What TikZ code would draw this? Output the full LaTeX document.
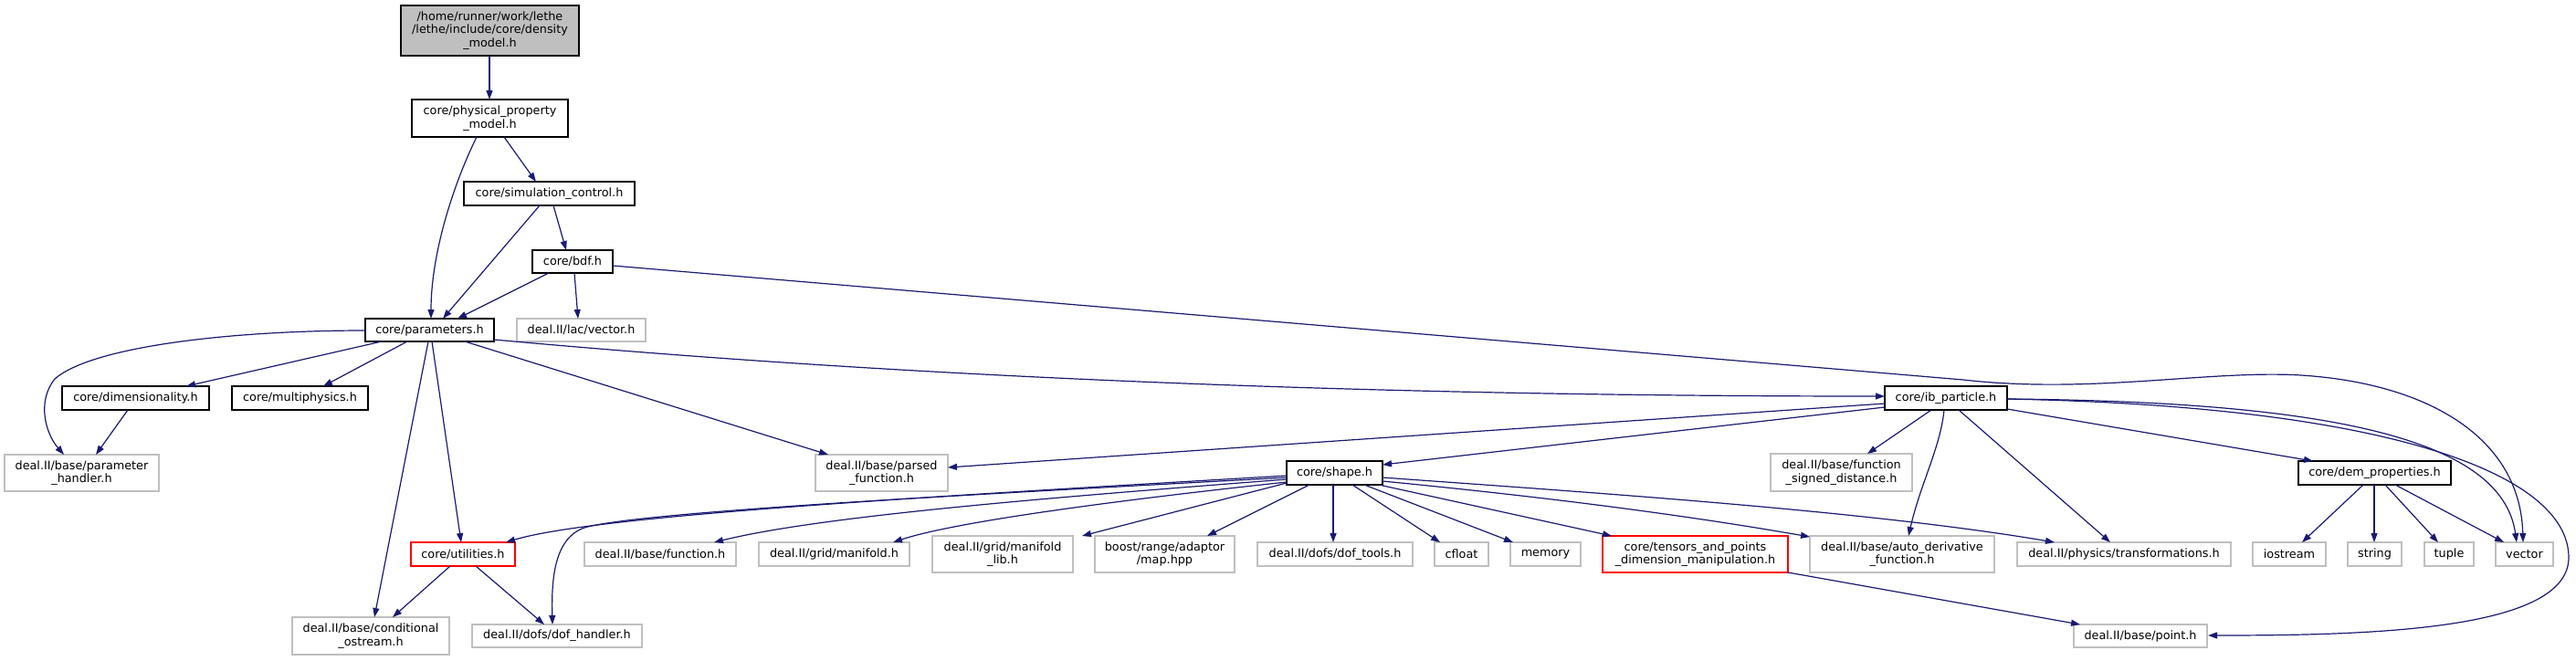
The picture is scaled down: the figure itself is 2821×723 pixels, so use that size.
\documentclass[tikz,border=0pt]{standalone}
\usepackage{fontspec}
\setmainfont{DejaVu Sans}
\usetikzlibrary{arrows.meta}
\definecolor{edgeblue}{HTML}{191970}
\definecolor{greyb}{HTML}{BFBFBF}
\newcommand\nbox[7]{\node[#2, minimum width={(#5-#3)*1pt}, minimum height={(#6-#4)*1pt}] (#1) at ({(#3+#5)/2},{(#4+#6)/2}) {#7};}
\newcommand\pp[3]{([xshift=#2pt,yshift=-#3pt]#1.north west)}
\tikzset{
  base/.style={rectangle, inner sep=0pt, outer sep=0pt, align=center, line width=1.2pt,
    font=\fontsize{12.8pt}{14.4pt}\selectfont},
  doc/.style={base, draw=black, fill=white},
  ext/.style={base, draw=greyb, fill=white},
  trunc/.style={base, draw=red, fill=white},
  root/.style={base, draw=black, fill=greyb},
  dep/.style={draw=edgeblue, line width=1.2pt, -{Triangle[length=10pt,width=7pt]}, fill=none},
}
\begin{document}
\begin{tikzpicture}[x=1pt,y=-1pt]
\useasboundingbox (0,0) rectangle (2821,723);
% nodes
\nbox{density}{root}{439}{6}{634}{61}{/home/runner/work/lethe\\/lethe/include/core/density\\\_model.h}
\nbox{physical}{doc}{451}{109}{622}{150}{core/physical\_property\\\_model.h}
\nbox{simctl}{doc}{508}{199}{695}{225}{core/simulation\_control.h}
\nbox{bdf}{doc}{583}{274}{671}{299}{core/bdf.h}
\nbox{params}{doc}{400}{349}{541}{374}{core/parameters.h}
\nbox{lacvec}{ext}{566}{349}{707}{374}{deal.II/lac/vector.h}
\nbox{dim}{doc}{68}{423}{229}{449}{core/dimensionality.h}
\nbox{multi}{doc}{254}{423}{403}{449}{core/multiphysics.h}
\nbox{ph}{ext}{5}{498}{174}{538}{deal.II/base/parameter\\\_handler.h}
\nbox{parsed}{ext}{893}{498}{1038}{538}{deal.II/base/parsed\\\_function.h}
\nbox{ibp}{doc}{2064}{423}{2198}{449}{core/ib\_particle.h}
\nbox{fsd}{ext}{1939}{497}{2094}{538}{deal.II/base/function\\\_signed\_distance.h}
\nbox{dem}{doc}{2517}{505}{2684}{531}{core/dem\_properties.h}
\nbox{shape}{doc}{1409}{505}{1514}{531}{core/shape.h}
\nbox{util}{trunc}{450}{594}{564}{620}{core/utilities.h}
\nbox{func}{ext}{640}{594}{806}{620}{deal.II/base/function.h}
\nbox{manif}{ext}{831}{594}{996}{620}{deal.II/grid/manifold.h}
\nbox{mlib}{ext}{1021}{587}{1175}{627}{deal.II/grid/manifold\\\_lib.h}
\nbox{boost}{ext}{1199}{587}{1352}{627}{boost/range/adaptor\\/map.hpp}
\nbox{doft}{ext}{1377}{594}{1547}{620}{deal.II/dofs/dof\_tools.h}
\nbox{cfloat}{ext}{1571}{594}{1630}{620}{cfloat}
\nbox{memory}{ext}{1654}{594}{1731}{620}{memory}
\nbox{tensors}{trunc}{1755}{587}{1958}{627}{core/tensors\_and\_points\\\_dimension\_manipulation.h}
\nbox{autod}{ext}{1982}{587}{2184}{627}{deal.II/base/auto\_derivative\\\_function.h}
\nbox{transf}{ext}{2209}{594}{2443}{620}{deal.II/physics/transformations.h}
\nbox{iostream}{ext}{2467}{594}{2547}{620}{iostream}
\nbox{string}{ext}{2571}{594}{2630}{620}{string}
\nbox{tuple}{ext}{2655}{594}{2709}{620}{tuple}
\nbox{vector}{ext}{2733}{594}{2796}{620}{vector}
\nbox{condo}{ext}{320}{676}{492}{717}{deal.II/base/conditional\\\_ostream.h}
\nbox{dofh}{ext}{517}{684}{703}{709}{deal.II/dofs/dof\_handler.h}
\nbox{point}{ext}{2271}{684}{2417}{709}{deal.II/base/point.h}
% edges
\draw[dep] \pp{density}{97}{55} -- \pp{physical}{85}{0};
\draw[dep] \pp{physical}{101}{41} -- \pp{simctl}{79}{0};
\draw[dep] \pp{physical}{71}{41} .. controls (495,205) and (472,280) .. \pp{params}{72}{0};
\draw[dep] \pp{simctl}{83}{26} -- \pp{params}{85}{0};
\draw[dep] \pp{simctl}{98}{26} -- \pp{bdf}{37}{0};
\draw[dep] \pp{bdf}{18}{25} -- \pp{params}{101}{0};
\draw[dep] \pp{bdf}{46}{25} -- \pp{lacvec}{67}{0};
\draw[dep] \pp{bdf}{88}{17} -- (2150,416) .. controls (2290,432) and (2420,405) .. (2520,411) .. controls (2660,420) and (2760,480) .. \pp{vector}{30}{0};
\draw[dep] \pp{params}{0}{13} .. controls (250,362) and (100,380) .. (60,415) .. controls (40,440) and (50,475) .. \pp{ph}{65}{0};
\draw[dep] \pp{params}{18}{25} -- \pp{dim}{136}{0};
\draw[dep] \pp{params}{46}{25} -- \pp{multi}{100}{0};
\draw[dep] \pp{params}{69}{25} -- \pp{condo}{90}{0};
\draw[dep] \pp{params}{73}{25} -- \pp{util}{55}{0};
\draw[dep] \pp{params}{109}{25} -- \pp{parsed}{14}{0};
\draw[dep] \pp{params}{141}{23} .. controls (900,405) and (1400,434) .. \pp{ibp}{0}{11};
\draw[dep] \pp{dim}{72}{26} -- \pp{ph}{100}{0};
\draw[dep] \pp{util}{43}{26} -- \pp{condo}{110}{0};
\draw[dep] \pp{util}{71}{26} -- \pp{dofh}{79}{0};
\draw[dep] \pp{ibp}{0}{19} -- \pp{parsed}{145}{14};
\draw[dep] \pp{ibp}{0}{23} -- \pp{shape}{105}{4};
\draw[dep] \pp{ibp}{51}{26} -- \pp{fsd}{106}{0};
\draw[dep] \pp{ibp}{65}{26} .. controls (2125,490) and (2103,530) .. \pp{autod}{108}{0};
\draw[dep] \pp{ibp}{81}{26} -- \pp{transf}{102}{0};
\draw[dep] \pp{ibp}{134}{25} -- \pp{dem}{16}{0};
\draw[dep] \pp{ibp}{134}{14} .. controls (2550,440) and (2740,480) .. \pp{vector}{23}{0};
\draw[dep] \pp{ibp}{134}{14} .. controls (2620,445) and (2812,520) .. (2813,610) .. controls (2814,690) and (2600,696) .. \pp{point}{147}{12};
\draw[dep] \pp{dem}{71}{26} -- \pp{iostream}{54}{0};
\draw[dep] \pp{dem}{83}{26} -- \pp{string}{29}{0};
\draw[dep] \pp{dem}{95}{26} -- \pp{tuple}{15}{0};
\draw[dep] \pp{dem}{106}{26} -- \pp{vector}{9}{0};
\draw[dep] \pp{shape}{0}{16} .. controls (1000,545) and (650,565) .. \pp{util}{104}{0};
\draw[dep] \pp{shape}{0}{18} .. controls (1100,540) and (700,560) .. (640,578) .. controls (605,590) and (604,640) .. \pp{dofh}{88}{0};
\draw[dep] \pp{shape}{0}{20} .. controls (1150,545) and (900,565) .. \pp{func}{142}{0};
\draw[dep] \pp{shape}{0}{23} .. controls (1250,545) and (1050,570) .. \pp{manif}{147}{0};
\draw[dep] \pp{shape}{0}{24} -- \pp{mlib}{164}{0};
\draw[dep] \pp{shape}{25}{26} -- \pp{boost}{123}{0};
\draw[dep] \pp{shape}{51}{26} -- \pp{doft}{83}{0};
\draw[dep] \pp{shape}{72}{26} -- \pp{cfloat}{6}{0};
\draw[dep] \pp{shape}{85}{26} -- \pp{memory}{3}{0};
\draw[dep] \pp{shape}{101}{26} -- \pp{tensors}{10}{0};
\draw[dep] \pp{shape}{105}{22} .. controls (1700,545) and (1850,565) .. \pp{autod}{0}{1};
\draw[dep] \pp{shape}{105}{18} .. controls (1750,540) and (2050,560) .. \pp{transf}{41}{0};
\draw[dep] \pp{tensors}{203}{40} -- \pp{point}{7}{0};
\end{tikzpicture}
\end{document}
